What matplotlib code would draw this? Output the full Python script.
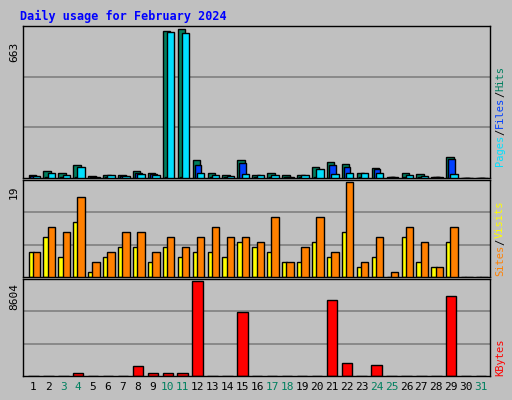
import matplotlib
matplotlib.use("Agg")
import matplotlib.pyplot as plt
import numpy as np

days = list(range(1, 32))
hits = [12,30,21,57,9,12,15,33,21,654,663,78,21,15,78,12,21,12,12,48,69,64,21,43,6,21,18,4,93,0,0]
files = [8,4,4,6,6,4,8,21,18,6,4,60,4,4,66,4,4,4,4,6,60,48,4,39,4,6,6,4,84,0,0]
pages = [10,21,15,48,3,12,8,18,12,651,645,21,12,8,18,12,12,4,12,42,18,24,21,21,4,15,8,4,18,0,0]
visits = [5,8,4,11,1,4,6,6,3,6,4,5,5,4,7,6,5,3,3,7,4,9,2,4,0,8,3,2,7,0,0]
sites = [5,10,9,16,3,5,9,9,5,8,6,8,10,8,8,7,12,3,6,12,5,19,3,8,1,10,7,2,10,0,0]
kbytes = [30,30,30,250,30,30,30,880,250,310,310,8604,30,30,5780,30,30,30,30,30,6900,1190,30,1000,30,30,30,30,7280,0,0]
weekends = [3,4,10,11,17,18,24,25,31]

W, H = 512, 400
fig = plt.figure(figsize=(W/100, H/100), dpi=100)
fig.patch.set_facecolor("#C0C0C0")
mono = "DejaVu Sans Mono"

def ax_px(x0, y0, x1, y1):
    return fig.add_axes([x0/W, 1-y1/H, (x1-x0)/W, (y1-y0)/H])

x = np.array(days, dtype=float)
xl = (0.3, 31.6)

def style(ax, ymax):
    ax.set_facecolor("#C0C0C0")
    ax.set_xlim(*xl)
    ax.set_ylim(0, ymax*1.02)
    for g in (ymax/3, 2*ymax/3):
        ax.axhline(g*1.02, color="#808080", lw=1.2, zorder=0)
    ax.set_xticks([]); ax.set_yticks([])
    for s in ax.spines.values():
        s.set_color("black"); s.set_linewidth(1)

def bars(ax, xs, vals, w, color, z):
    ax.bar(xs, vals, width=w, align="edge", color=color, edgecolor="black", linewidth=1, zorder=z)

a1 = ax_px(23, 26, 490, 178)
style(a1, 663)
bars(a1, x-0.33, hits, 0.5, "#007F5F", 2)
bars(a1, x-0.2, files, 0.45, "#0040FF", 3)
bars(a1, x-0.05, pages, 0.5, "#00E0FF", 4)

a2 = ax_px(23, 180, 490, 277)
style(a2, 19)
bars(a2, x-0.33, visits, 0.35, "#FFFF00", 2)
bars(a2, x-0.05, sites, 0.5, "#FF8000", 3)

a3 = ax_px(23, 279, 490, 376)
style(a3, 8604)
bars(a3, x-0.35, kbytes, 0.7, "#FF0000", 2)
a3.set_xticks(x)
a3.set_xticklabels([str(d) for d in days], family=mono, fontsize=8)
for t, d in zip(a3.get_xticklabels(), days):
    t.set_color("#00805F" if d in weekends else "black")
a3.tick_params(axis="x", length=0, pad=4)

fig.text(20/W, 1-16/H, "Daily usage for February 2024", color="#0000FF", family=mono,
         fontsize=8.5, fontweight="bold", va="center")
fig.text(14/W, 1-52/H, "663", rotation=90, family=mono, fontsize=8, va="center", ha="center")
fig.text(14/W, 1-192/H, "19", rotation=90, family=mono, fontsize=8, va="center", ha="center")
fig.text(14/W, 1-296/H, "8604", rotation=90, family=mono, fontsize=8, va="center", ha="center")

fs = 7.5
cw = 0.602 * fs * 100 / 72  # mono char advance in px

def vlabel(parts, xc, ybottom):
    y = ybottom
    for txt, c in parts:
        fig.text(xc/W, 1-y/H, txt, rotation=90, color=c, family=mono, fontsize=fs,
                 ha="center", va="bottom", rotation_mode="anchor" if False else "default")
        y -= len(txt)*cw

vlabel([("Pages", "#00E0FF"), ("/", "black"), ("Files", "#0040FF"), ("/", "black"), ("Hits", "#007F5F")], 500, 166)
vlabel([("Sites", "#FF8000"), ("/", "black"), ("Visits", "#FFFF00")], 500, 276)
vlabel([("KBytes", "#FF0000")], 500, 376)

fig.savefig("out.png", dpi=100, facecolor=fig.get_facecolor())
